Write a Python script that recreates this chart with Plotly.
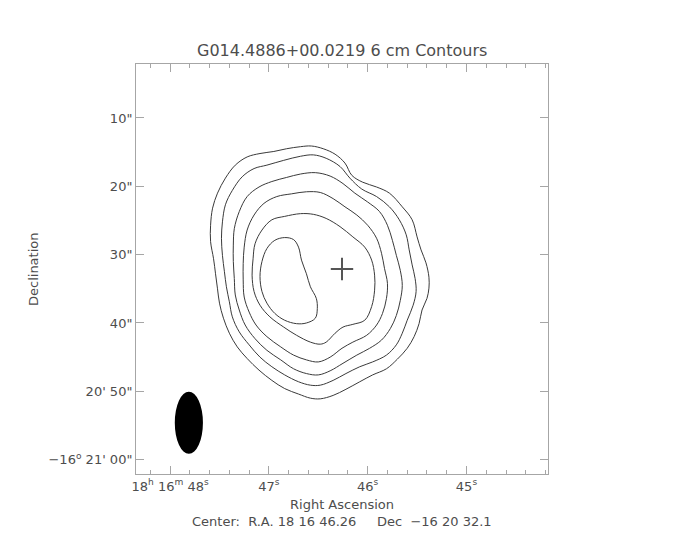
import math
import plotly.graph_objects as go

# ---------------- data ----------------
title_text = "G014.4886+00.0219 6 cm Contours"
center_ra_s = 46.26          # 18h16m46.26s
center_dec_arcsec = 32.1     # arcsec south of -16d20'00"
center_dec_deg = -16.342

ra_range = [48.345, 44.175]
dec_range = [62.1, 2.1]

ra_tick_vals = [48, 47, 46, 45]
ra_tick_text = ["18<sup>h</sup> 16<sup>m</sup> 48<sup>s</sup>", "47<sup>s</sup>",
                "46<sup>s</sup>", "45<sup>s</sup>"]
dec_tick_vals = [10, 20, 30, 40, 50, 60]
dec_tick_text = ['10"', '20"', '30"', '40"', "20' 50\"", "\u221216<sup>o</sup> 21' 00\""]

# contour levels, outermost first (RA seconds, Dec arcsec south of -16d20')
c1_ra = [46.68, 46.57, 46.45, 46.33, 46.23, 46.16, 46.05, 45.91, 45.78, 45.65, 45.55, 45.50,
         45.46, 45.41, 45.38, 45.38, 45.40, 45.45, 45.48, 45.53, 45.60, 45.70, 45.81, 45.95,
         46.08, 46.22, 46.35, 46.48, 46.58, 46.70, 46.84, 46.97, 47.10, 47.22, 47.32, 47.40,
         47.46, 47.50, 47.52, 47.54, 47.56, 47.59, 47.59, 47.57, 47.52, 47.44, 47.34, 47.22,
         47.09, 46.95, 46.82]
c1_dec = [14.2, 14.1, 14.5, 15.3, 16.6, 18.4, 19.4, 20.1, 21.0, 23.0, 24.9, 27.4,
          29.3, 31.2, 33.3, 34.9, 36.4, 38.1, 40.1, 42.0, 43.7, 45.3, 46.7, 47.6,
          48.6, 49.7, 50.6, 51.1, 51.0, 50.4, 49.6, 48.4, 46.9, 45.2, 43.5, 41.5,
          39.3, 37.1, 35.0, 32.8, 30.6, 28.1, 25.7, 23.2, 21.0, 18.8, 16.9, 15.7,
          15.2, 14.9, 14.5]

c2_ra = [46.68, 46.55, 46.42, 46.28, 46.18, 46.06, 45.91, 45.78, 45.68, 45.61, 45.58, 45.55,
         45.52, 45.51, 45.54, 45.60, 45.65, 45.71, 45.81, 45.95, 46.08, 46.22, 46.35, 46.48,
         46.58, 46.70, 46.84, 46.97, 47.09, 47.20, 47.30, 47.37, 47.40, 47.43, 47.45, 47.47,
         47.48, 47.47, 47.44, 47.37, 47.27, 47.15, 47.02, 46.85]
c2_dec = [15.6, 15.4, 15.9, 17.1, 18.8, 20.4, 21.5, 23.0, 24.9, 27.1, 29.3, 31.5,
          33.5, 35.4, 37.4, 39.6, 41.5, 43.2, 44.7, 45.7, 46.4, 47.4, 48.4, 49.1,
          49.1, 48.6, 47.6, 46.4, 45.0, 43.2, 41.3, 39.1, 36.9, 34.7, 32.5, 30.1,
          27.6, 25.2, 22.7, 20.6, 18.6, 17.4, 16.9, 16.2]

c3_ra = [46.68, 46.53, 46.38, 46.25, 46.13, 46.00, 45.88, 45.80, 45.75, 45.71, 45.67, 45.65,
         45.67, 45.71, 45.77, 45.86, 45.98, 46.11, 46.25, 46.38, 46.50, 46.62, 46.75, 46.88,
         47.02, 47.14, 47.24, 47.30, 47.34, 47.35, 47.36, 47.36, 47.35, 47.30, 47.22, 47.10,
         46.97, 46.82]
c3_dec = [18.2, 18.0, 18.5, 19.6, 21.0, 22.3, 23.7, 25.7, 27.9, 30.1, 32.3, 34.5,
          36.7, 38.9, 40.8, 42.5, 43.7, 44.7, 45.9, 47.0, 47.6, 47.4, 46.7, 45.4,
          44.0, 42.3, 40.3, 38.1, 35.9, 33.5, 31.0, 28.6, 26.2, 23.7, 21.5, 20.1,
          19.3, 18.7]

c4_ra = [46.62, 46.48, 46.35, 46.23, 46.11, 46.00, 45.91, 45.86, 45.83, 45.80, 45.81, 45.85,
         45.91, 46.01, 46.15, 46.26, 46.38, 46.50, 46.62, 46.75, 46.88, 47.02, 47.13, 47.20,
         47.25, 47.26, 47.26, 47.25, 47.22, 47.15, 47.05, 46.92, 46.77]
c4_dec = [20.8, 20.9, 21.8, 23.0, 24.2, 25.7, 27.6, 29.8, 32.0, 34.2, 36.4, 38.6,
          40.3, 41.8, 42.8, 43.7, 45.0, 45.7, 45.4, 44.7, 43.5, 42.0, 40.3, 38.4,
          36.2, 33.7, 31.3, 28.9, 26.4, 24.2, 22.5, 21.5, 21.1]

c5_ra = [46.68, 46.55, 46.42, 46.28, 46.15, 46.03, 45.96, 45.93, 45.93, 45.96, 46.03, 46.15,
         46.25, 46.33, 46.42, 46.48, 46.58, 46.72, 46.85, 46.99, 47.09, 47.15, 47.17, 47.16,
         47.14, 47.07, 46.97, 46.84]
c5_dec = [24.0, 24.1, 24.7, 25.9, 27.4, 28.9, 30.8, 33.0, 35.2, 37.6, 39.6, 40.2,
          40.6, 41.5, 42.8, 43.1, 42.8, 41.8, 40.6, 39.1, 37.4, 35.4, 33.0, 30.6,
          28.4, 26.4, 24.9, 24.4]

c6_ra = [46.84, 46.75, 46.70, 46.67, 46.62, 46.58, 46.52, 46.51, 46.53, 46.62, 46.72, 46.84,
         46.94, 47.02, 47.07, 47.09, 47.07, 47.02, 46.94]
c6_dec = [27.5, 27.8, 28.9, 30.8, 32.8, 34.7, 36.4, 37.9, 39.3, 40.0, 40.1, 39.6,
          38.6, 37.1, 35.4, 33.2, 31.0, 29.1, 27.9]

contours = [(c1_ra, c1_dec), (c2_ra, c2_dec), (c3_ra, c3_dec),
            (c4_ra, c4_dec), (c5_ra, c5_dec), (c6_ra, c6_dec)]

# restoring beam (center RA s, center Dec arcsec, axes in arcsec)
beam_ra = 47.81
beam_dec = 54.6
beam_major = 9.1
beam_minor = 4.1

# ---------------- styles ----------------
AX = "#a6a6a6"
TXT = "#4d4d4d"
LINE = "#3a3a3a"
FONT = "DejaVu Sans"

fig = go.Figure()

for ra, dec in contours:
    fig.add_trace(go.Scatter(
        x=list(ra) + [ra[0]], y=list(dec) + [dec[0]],
        mode="lines", line=dict(color=LINE, width=1, shape="spline", smoothing=1.0),
        hoverinfo="skip", showlegend=False))

fig.add_trace(go.Scatter(
    x=[center_ra_s], y=[center_dec_arcsec], mode="markers",
    marker=dict(symbol="cross-thin", size=16, line=dict(color="#555555", width=2)),
    showlegend=False, hoverinfo="skip"))

sec_per_arcsec = 1.0 / (15.0 * math.cos(math.radians(abs(center_dec_deg))))
half_w = beam_minor / 2 * sec_per_arcsec
fig.add_shape(type="circle", xref="x", yref="y",
              x0=beam_ra + half_w, x1=beam_ra - half_w,
              y0=beam_dec - beam_major / 2, y1=beam_dec + beam_major / 2,
              fillcolor="black", line=dict(width=0))

fig.update_xaxes(
    range=ra_range, tickmode="array", tickvals=ra_tick_vals, ticktext=ra_tick_text,
    ticks="inside", ticklen=8, tickcolor=AX, tickwidth=1,
    minor=dict(dtick=0.2, tick0=0, ticks="inside", ticklen=4, tickcolor=AX, tickwidth=1),
    showline=True, linecolor=AX, linewidth=1, mirror="ticks",
    showgrid=False, zeroline=False,
    tickfont=dict(family=FONT, size=13, color=TXT))

fig.update_yaxes(
    range=dec_range, tickmode="array", tickvals=dec_tick_vals, ticktext=dec_tick_text,
    ticks="inside", ticklen=8, tickcolor=AX, tickwidth=1,
    showline=True, linecolor=AX, linewidth=1, mirror="ticks",
    showgrid=False, zeroline=False,
    tickfont=dict(family=FONT, size=13, color=TXT))

fig.update_layout(
    width=684, height=540,
    margin=dict(l=128, r=144, t=56, b=74),
    paper_bgcolor="white", plot_bgcolor="white",
    showlegend=False,
    annotations=[
        dict(text=title_text, xref="paper", yref="paper", x=0.5, y=1.034,
             xanchor="center", yanchor="middle", showarrow=False,
             font=dict(family=FONT, size=16, color=TXT)),
        dict(text="Right Ascension", xref="paper", yref="paper", x=0.5, y=-0.0756,
             xanchor="center", yanchor="middle", showarrow=False,
             font=dict(family=FONT, size=13, color=TXT)),
        dict(text="Center:\u00a0\u00a0R.A.\u00a018\u00a016\u00a046.26\u00a0\u00a0\u00a0\u00a0\u00a0Dec\u00a0\u00a0\u221216\u00a020\u00a032.1",
             xref="paper", yref="paper", x=0.5, y=-0.117,
             xanchor="center", yanchor="middle", showarrow=False,
             font=dict(family=FONT, size=13, color=TXT)),
        dict(text="Declination", xref="paper", yref="paper", x=-0.25, y=0.5,
             xanchor="center", yanchor="middle", showarrow=False, textangle=-90,
             font=dict(family=FONT, size=13, color=TXT)),
    ])

fig.write_html("out.html")
